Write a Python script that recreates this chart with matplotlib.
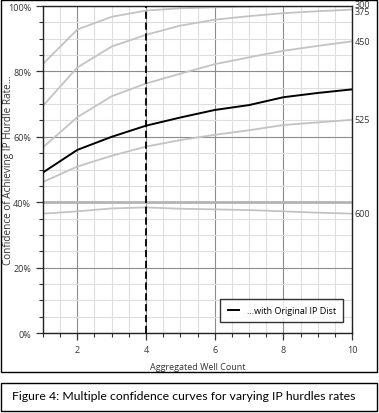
import matplotlib
matplotlib.use('Agg')
import matplotlib.pyplot as plt
from matplotlib.patches import Rectangle
from matplotlib.ticker import MultipleLocator, FuncFormatter

plt.rcParams['font.family'] = ['Open Sans', 'DejaVu Sans']

# Aggregated well count
wells = [1, 2, 3, 4, 5, 6, 7, 8, 9, 10]

# Confidence (%) per IP hurdle rate
hurdle_labels = ['300', '375', '450', '525', '600']
conf_300 = [82.3, 92.8, 96.7, 98.6, 99.3, 99.6, 99.8, 99.9, 100.0, 100.0]
conf_375 = [69.5, 81.2, 87.6, 91.2, 94.0, 95.8, 96.9, 97.8, 98.4, 98.9]
conf_450 = [56.8, 66.0, 72.4, 76.3, 79.3, 82.2, 84.3, 86.3, 87.8, 89.2]
conf_525 = [46.2, 50.9, 54.2, 57.0, 59.0, 60.6, 62.0, 63.6, 64.4, 65.2]
conf_600 = [36.5, 37.2, 38.1, 38.4, 38.0, 37.8, 37.6, 37.2, 36.8, 36.5]
hurdle_curves = [conf_300, conf_375, conf_450, conf_525, conf_600]

# Original IP distribution
conf_original = [49.1, 56.0, 60.0, 63.4, 65.9, 68.2, 69.7, 72.1, 73.4, 74.5]

marker_well = 4

W, H = 379, 414
fig = plt.figure(figsize=(W / 100, H / 100), dpi=100)
ax = fig.add_axes([43 / W, 1 - 334 / H, (352 - 43) / W, (334 - 7) / H])

ax.set_xlim(1, 10)
ax.set_ylim(0, 100)
ax.xaxis.set_major_locator(MultipleLocator(2))
ax.xaxis.set_minor_locator(MultipleLocator(0.5))
ax.yaxis.set_major_locator(MultipleLocator(20))
ax.yaxis.set_minor_locator(MultipleLocator(5))
ax.yaxis.set_major_formatter(FuncFormatter(lambda v, p: f'{v:.0f}%'))

ax.grid(which='minor', color='#dedede', linewidth=0.8)
ax.grid(which='major', color='#8c8c8c', linewidth=0.8)
ax.axhline(40, color='#b4b4b4', linewidth=2.0, zorder=1)
ax.set_axisbelow(True)

ax.tick_params(which='both', direction='out', labelsize=6.5, colors='#333333')
ax.tick_params(which='major', length=5, width=0.9)
ax.tick_params(which='minor', length=3, width=0.8)
for s in ax.spines.values():
    s.set_color('#222222')
    s.set_linewidth(1.0)

for lab, vals in zip(hurdle_labels, hurdle_curves):
    ax.plot(wells, vals, color='#c3c3c3', linewidth=1.3, zorder=2)
ax.text(10.08, conf_300[-1] + 0.6, hurdle_labels[0], fontsize=6.5,
        color='#333333', va='center', ha='left', clip_on=False)
ax.text(10.08, conf_375[-1] - 0.6, hurdle_labels[1], fontsize=6.5,
        color='#333333', va='center', ha='left', clip_on=False)
for lab, vals in zip(hurdle_labels[2:], hurdle_curves[2:]):
    ax.text(10.08, vals[-1], lab, fontsize=6.5, color='#333333',
            va='center', ha='left', clip_on=False)

ax.plot(wells, conf_original, color='black', linewidth=1.4, zorder=3,
        label='...with Original IP Dist')
ax.axvline(marker_well, color='black', linestyle=(0, (4, 2)),
           linewidth=1.3, zorder=4)

leg = ax.legend(loc='lower right', fontsize=6.5, frameon=True, fancybox=False,
                handlelength=1.3, borderpad=0.8, bbox_to_anchor=(0.985, 0.02))
leg.get_frame().set_edgecolor('black')
leg.get_frame().set_linewidth(1.0)

ax.set_xlabel('Aggregated Well Count', fontsize=6.5, color='#333333', labelpad=6)
ax.set_ylabel('Confidence of Achieving IP Hurdle Rate...', fontsize=7.2,
              color='#333333')
ax.yaxis.set_label_coords((14 - 43) / (352 - 43), 0.5)

# outer frame of the chart and caption box
fig.patches.append(Rectangle((1 / W, 1 - 373 / H), 376 / W, 372 / H,
                             transform=fig.transFigure, fill=False,
                             edgecolor='black', linewidth=1.0))
fig.patches.append(Rectangle((1 / W, 1 - 412 / H), 376 / W, 28 / H,
                             transform=fig.transFigure, fill=False,
                             edgecolor='black', linewidth=1.0))
fig.text(12 / W, 1 - 397 / H,
         'Figure 4: Multiple confidence curves for varying IP hurdles rates',
         fontsize=8.8, family=['Lato', 'DejaVu Sans'], va='center', ha='left')

fig.savefig('out.png', dpi=100)
